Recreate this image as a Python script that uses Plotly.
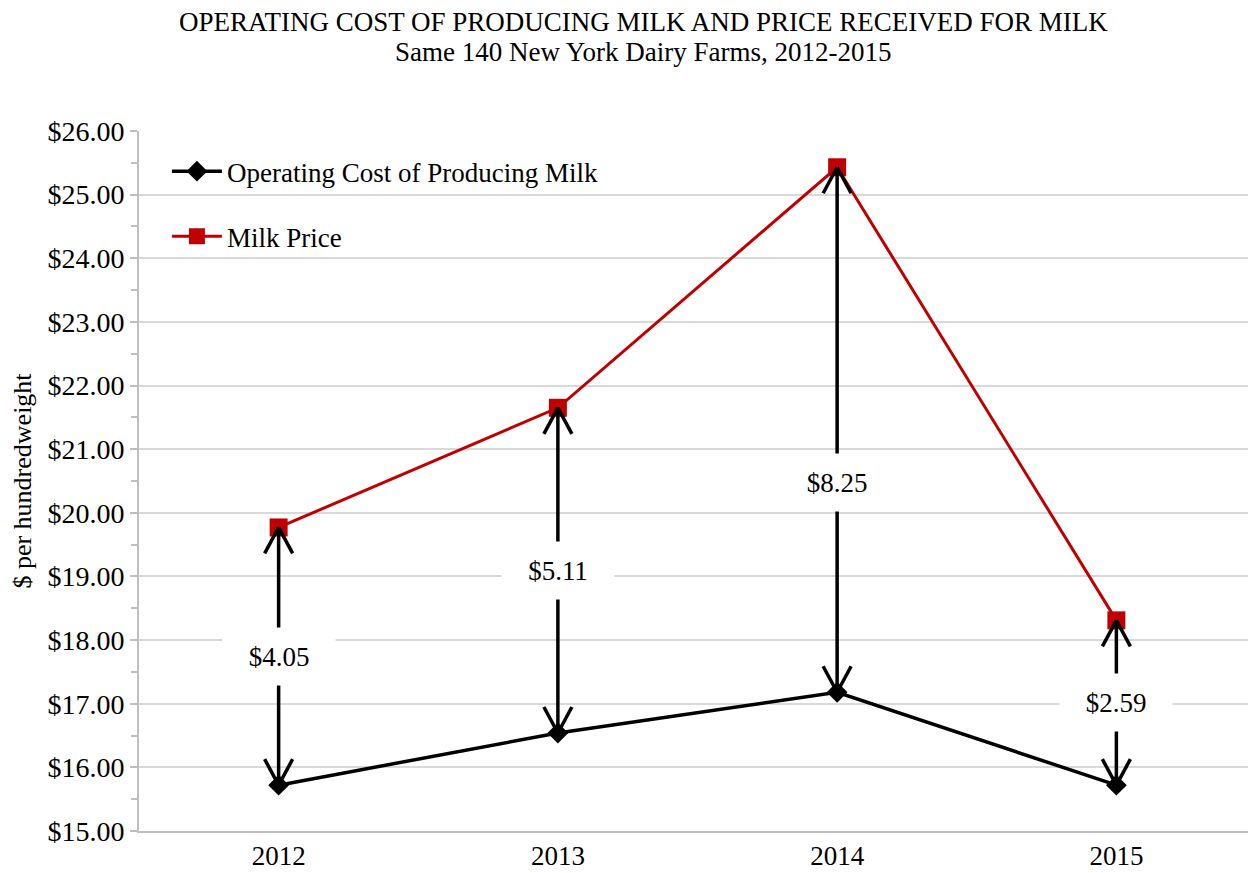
import plotly.graph_objects as go

# data ($ per hundredweight)
years = ["2012", "2013", "2014", "2015"]
operating_cost = [15.72, 16.54, 17.18, 15.72]
milk_price = [19.77, 21.65, 25.43, 18.31]
y_ticks = [15, 16, 17, 18, 19, 20, 21, 22, 23, 24, 25, 26]

FONT = "Liberation Serif, Times New Roman, serif"
RED = "#C00000"
GRID = "#D9D9D9"
AXIS = "#BFBFBF"

# page has an 8px body margin, so the figure is offset a little in the window
W, H = 1248, 865
L, T, B = 131, 123, 42
PLOT_H = H - T - B

xs = list(range(len(years)))

fig = go.Figure()

fig.add_trace(go.Scatter(
    x=xs, y=operating_cost,
    mode="lines+markers",
    name="Operating Cost of Producing Milk",
    line=dict(color="black", width=3.5),
    marker=dict(symbol="diamond", size=16, color="black"),
    legendgroup="cost",
))
fig.add_trace(go.Scatter(
    x=xs, y=milk_price,
    mode="lines+markers",
    name="Milk Price",
    line=dict(color=RED, width=3),
    marker=dict(symbol="square", size=18, color=RED),
    legendgroup="price",
))

# double-headed arrows between cost and price, with the gap as label
label_shift = {2: -0.83}  # the 2014 label sits below the midpoint
shapes = []
annotations = []
for i, (c, p) in enumerate(zip(operating_cost, milk_price)):
    shapes.append(dict(type="line", xref="x", yref="y", x0=i, x1=i, y0=c, y1=p,
                       line=dict(color="black", width=3.5)))
    for tip, direction in ((p, -1), (c, 1)):
        for side in (-1, 1):
            shapes.append(dict(
                type="line", xref="x", yref="y",
                xsizemode="pixel", ysizemode="pixel",
                xanchor=i, yanchor=tip,
                x0=0, y0=0, x1=14 * side, y1=26 * direction,
                line=dict(color="black", width=3.5),
            ))
    annotations.append(dict(
        x=i, y=(c + p) / 2 + label_shift.get(i, 0),
        xref="x", yref="y",
        text=f"${p - c:.2f}",
        showarrow=False,
        bgcolor="white",
        width=110, height=55,
        font=dict(family=FONT, size=27, color="black"),
    ))

# two-line title, placed as paper annotations above the plot
title_lines = [
    ("OPERATING COST OF PRODUCING MILK AND PRICE RECEIVED FOR MILK", 14),
    ("Same 140 New York Dairy Farms, 2012-2015", 44),
]
for text, py in title_lines:
    annotations.append(dict(
        text=text, showarrow=False,
        xref="paper", yref="paper",
        x=(635 - L) / (W - L), y=1 + (T - py) / PLOT_H,
        xanchor="center", yanchor="middle",
        font=dict(family=FONT, size=27, color="black"),
    ))

fig.update_layout(
    width=W, height=H,
    margin=dict(l=L, r=0, t=T, b=B),
    paper_bgcolor="white",
    plot_bgcolor="white",
    font=dict(family=FONT, size=27, color="black"),
    shapes=shapes,
    annotations=annotations,
    showlegend=True,
    legend=dict(
        x=0.025, y=0.977, xanchor="left", yanchor="top",
        bgcolor="rgba(0,0,0,0)",
        traceorder="grouped",
        tracegroupgap=27,
        itemwidth=50,
        font=dict(family=FONT, size=27, color="black"),
    ),
)

fig.update_xaxes(
    range=[-0.5, len(years) - 0.5],
    tickvals=xs, ticktext=years,
    showgrid=False,
    showline=True, linecolor=AXIS, linewidth=2,
    ticks="", zeroline=False,
    automargin=False,
    tickfont=dict(family=FONT, size=27),
)
fig.update_yaxes(
    range=[15, 26],
    tickvals=y_ticks,
    tickformat="$.2f",
    showgrid=True, gridcolor=GRID, gridwidth=2,
    showline=True, linecolor=AXIS, linewidth=2,
    ticks="outside", ticklen=7, tickcolor=AXIS, tickwidth=2,
    minor=dict(dtick=0.5, ticks="outside", ticklen=6, tickcolor=AXIS, tickwidth=2, showgrid=False),
    zeroline=False,
    automargin=False,
    tickfont=dict(family=FONT, size=28),
    title=dict(text="$ per hundredweight", standoff=8, font=dict(family=FONT, size=26)),
)

fig.write_html("out.html")
